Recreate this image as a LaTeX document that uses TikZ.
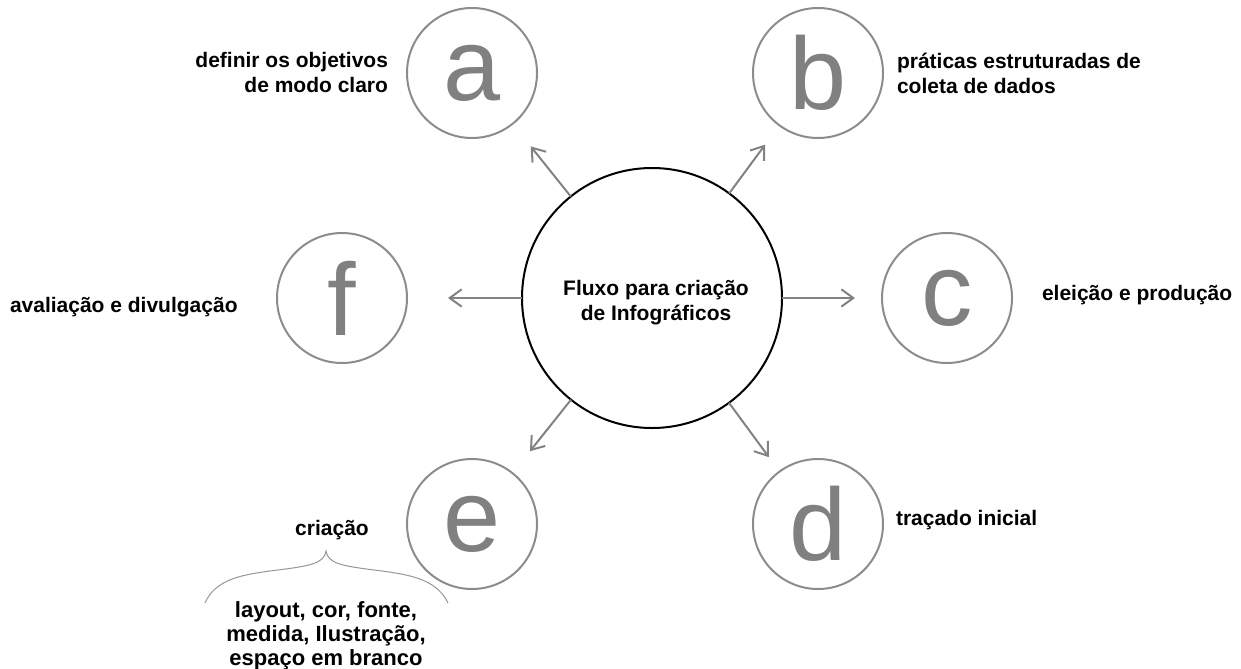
\documentclass[tikz,border=0pt]{standalone}
\usepackage{fontspec}
\setmainfont{Liberation Sans}
\usetikzlibrary{arrows.meta}
\definecolor{lettergray}{RGB}{128,128,128}
\definecolor{ringgray}{RGB}{140,140,140}
\definecolor{arrowgray}{RGB}{130,130,130}
\definecolor{bracegray}{RGB}{150,150,150}
\begin{document}
\begin{tikzpicture}[x=0.75pt,y=-0.75pt,
  ring/.style={circle,draw=ringgray,line width=1.5pt,minimum size=97.5pt,inner sep=0pt,outer sep=0pt,
    text=lettergray,font=\fontsize{77}{77}\selectfont},
  hub/.style={circle,draw=black,line width=1.5pt,minimum size=195pt,inner sep=0pt,outer sep=0pt},
  lbl/.style={font=\bfseries\fontsize{15.75}{18.75}\selectfont,inner sep=0pt,outer sep=0pt},
  flow/.style={draw=arrowgray,line width=1.5pt,-{Straight Barb[length=9pt,width=13pt]}}]
\useasboundingbox (0,0) rectangle (1241,668);
% hub
\node[hub] (ctr) at (652,298) {};
\node[lbl,align=center] (ctrtxt) at (656,303) {Fluxo para criação\\de Infográficos};
% rings
\node[ring] (a) at (472,73) {a};
\node[ring] (b) at (818,73) {b};
\node[ring] (c) at (947,298) {c};
\node[ring] (d) at (818,524) {d};
\node[ring] (e) at (472,524) {e};
\node[ring] (f) at (342,298) {f};
% arrows
\draw[flow,shorten >=21.75pt] (ctr) -- (a);
\draw[flow,shorten >=18pt] (ctr) -- (b);
\draw[flow,shorten >=20.25pt] (ctr) -- (c);
\draw[flow,shorten >=13.5pt] (ctr) -- (d);
\draw[flow,shorten >=21pt] (ctr) -- (e);
\draw[flow,shorten >=30.75pt] (ctr) -- (f);
% labels
\node[lbl,align=right,anchor=base east] (ta) at (388,92) {definir os objetivos\\de modo claro};
\node[lbl,align=left,anchor=base west] (tb) at (897,93) {práticas estruturadas de\\coleta de dados};
\node[lbl,anchor=base west] (tc) at (1042,300) {eleição e produção};
\node[lbl,anchor=base west] (td) at (896,525) {traçado inicial};
\node[lbl,anchor=base] (te) at (332,535) {criação};
\node[lbl,anchor=base west] (tf) at (10,312) {avaliação e divulgação};
\node[lbl,align=center,anchor=base,font=\bfseries\fontsize{16.5}{18}\selectfont] (tsub) at (326,665)
  {layout, cor, fonte,\\medida, Ilustração,\\espaço em branco};
% brace
\draw[bracegray,line width=0.75pt] (205,603) .. controls (215,580) and (240,575) .. (270,571)
  .. controls (310,566) and (324,564) .. (326,551)
  .. controls (328,564) and (342,566) .. (382,571)
  .. controls (412,575) and (437,580) .. (448,603);
\end{tikzpicture}
\end{document}
